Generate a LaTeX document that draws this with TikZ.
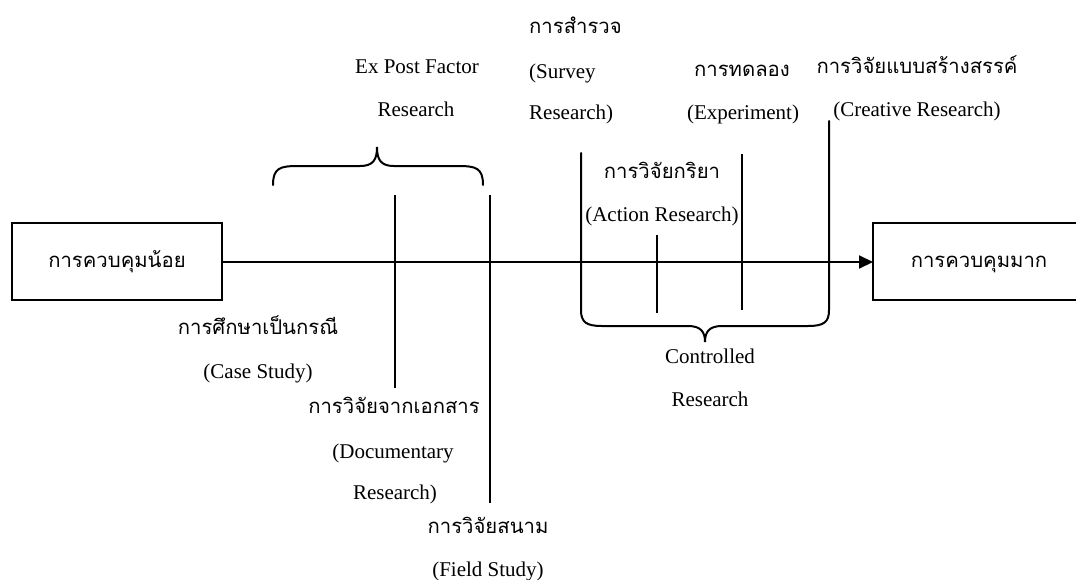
\documentclass[tikz,border=0pt]{standalone}
\usepackage{fontspec}
\setmainfont{Liberation Serif}
\newfontfamily\thaifont[Script=Thai]{Loma}
\usetikzlibrary{arrows.meta}
\newcommand{\thaitext}[1]{{\thaifont\fontsize{20.3pt}{23pt}\selectfont #1}}
\tikzset{
  lbl/.style={inner sep=0pt, anchor=base, font=\fontsize{21pt}{24pt}\selectfont},
  lblleft/.style={lbl, anchor=base west},
  stateblock/.style={draw, line width=2pt, inner sep=0pt},
  tick/.style={line width=2pt},
  bracket/.style={line width=2pt, line cap=round},
  flow/.style={line width=2pt, -{Triangle[length=14pt,width=13pt]}}
}
\begin{document}
\begin{tikzpicture}[x=1pt, y=-1pt]
\useasboundingbox (0,0) rectangle (1076,579);

% end states of the control scale
\draw[stateblock] (12,223) rectangle (222,300);
\draw[stateblock] (1080,223) -- (873,223) -- (873,300) -- (1080,300);
\coordinate (lowE) at (222,262);
\coordinate (highW) at (873,262);
\node[lbl] (lowtxt) at (117,267) {\thaitext{การควบคุมน้อย}};
\node[lbl] (hightxt) at (979,267) {\thaitext{การควบคุมมาก}};

% main axis
\draw[flow] (lowE) -- (highW);

% ex post factor bracket and its markers
\coordinate (epA) at (395,195);
\coordinate (epB) at (395,388);
\coordinate (fsA) at (490,195);
\coordinate (fsB) at (490,503);
\draw[tick] (epA) -- (epB);
\draw[tick] (fsA) -- (fsB);
\draw[bracket] (273,185) .. controls (273,168) and (280,166) .. (298,166)
  -- (360,166) .. controls (373,166) and (377,160) .. (377,147)
  .. controls (377,160) and (381,166) .. (394,166)
  -- (458,166) .. controls (476,166) and (483,168) .. (483,185);

% controlled research bracket and its markers
\coordinate (svA) at (581,153);
\coordinate (crA) at (829,121);
\coordinate (acA) at (657,235);
\coordinate (acB) at (657,313);
\coordinate (exA) at (742,154);
\coordinate (exB) at (742,310);
\draw[tick] (acA) -- (acB);
\draw[tick] (exA) -- (exB);
\draw[bracket] (svA) -- (581,310) .. controls (581,322) and (586,326) .. (602,326)
  -- (688,326) .. controls (701,326) and (705,332) .. (705,342)
  .. controls (705,332) and (709,326) .. (722,326)
  -- (808,326) .. controls (824,326) and (829,322) .. (829,310) -- (crA);

% labels above the axis
\node[lbl] (ep1) at (417,73) {Ex Post Factor};
\node[lbl] (ep2) at (416,116) {Research};
\node[lblleft] (sv1) at (529,33) {\thaitext{การสำรวจ}};
\node[lblleft] (sv2) at (529,78) {(Survey};
\node[lblleft] (sv3) at (529,119) {Research)};
\node[lbl] (ex1) at (742,76) {\thaitext{การทดลอง}};
\node[lbl] (ex2) at (743,119) {(Experiment)};
\node[lbl] (cr1) at (917,73) {\thaitext{การวิจัยแบบสร้างสรรค์}};
\node[lbl] (cr2) at (917,116) {(Creative Research)};
\node[lbl] (ac1) at (662,178) {\thaitext{การวิจัยกริยา}};
\node[lbl] (ac2) at (662,221) {(Action Research)};

% labels below the axis
\node[lbl] (cs1) at (258,334) {\thaitext{การศึกษาเป็นกรณี}};
\node[lbl] (cs2) at (258,378) {(Case Study)};
\node[lbl] (dc1) at (394,413) {\thaitext{การวิจัยจากเอกสาร}};
\node[lbl] (dc2) at (393,458) {(Documentary};
\node[lbl] (dc3) at (395,499) {Research)};
\node[lbl] (fs1) at (488,533) {\thaitext{การวิจัยสนาม}};
\node[lbl] (fs2) at (488,576) {(Field Study)};
\node[lbl] (co1) at (710,363) {Controlled};
\node[lbl] (co2) at (710,406) {Research};
\end{tikzpicture}
\end{document}
